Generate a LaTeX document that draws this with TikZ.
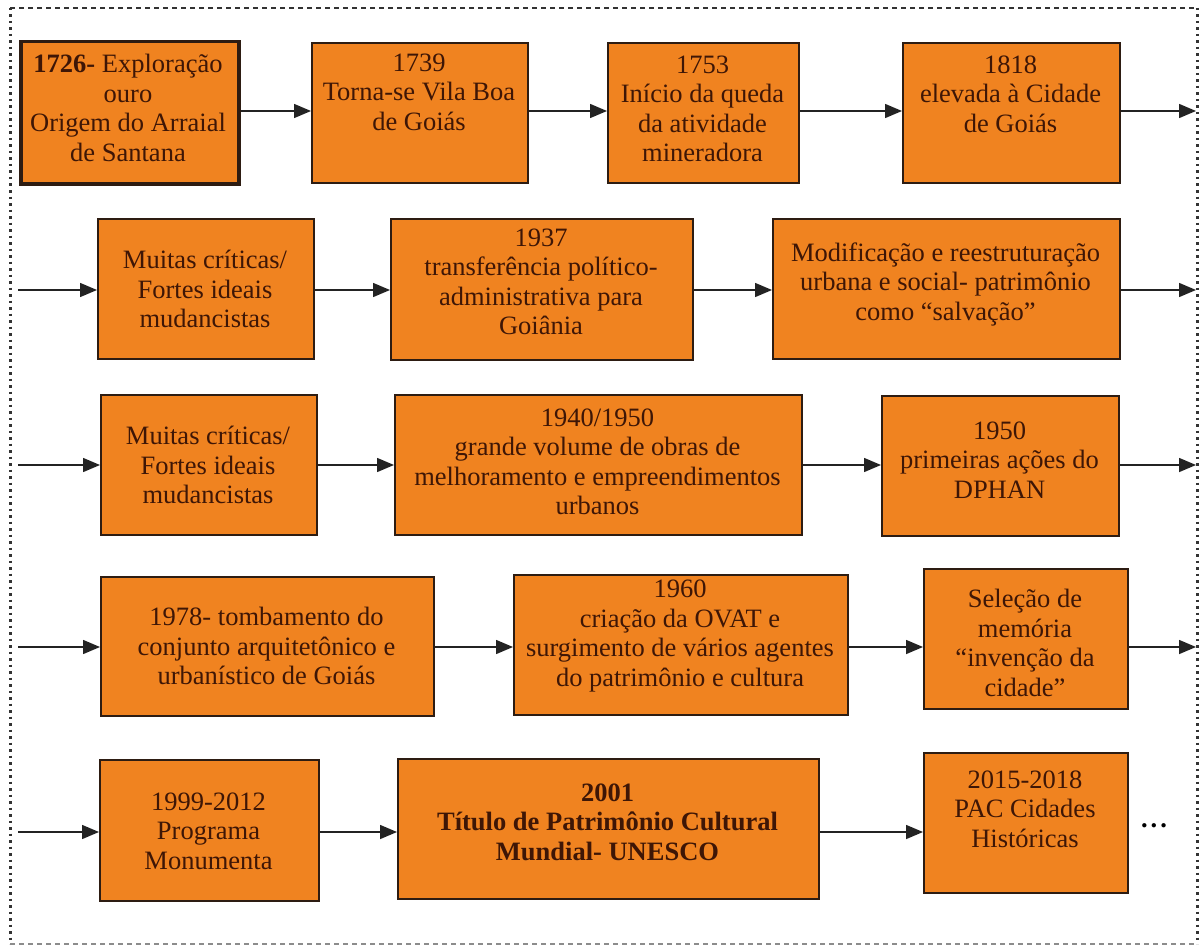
\documentclass[tikz,border=0pt]{standalone}
\usepackage{fontspec}
\setmainfont{Liberation Serif}
\usetikzlibrary{arrows.meta}
\definecolor{boxfill}{RGB}{240,131,32}
\definecolor{boxline}{RGB}{45,28,18}
\definecolor{txtcol}{RGB}{62,22,6}
\definecolor{arrcol}{RGB}{35,35,35}
\tikzset{
  box/.style={draw=boxline, fill=boxfill, line width=2.2pt, inner sep=0pt, anchor=north west},
  txt/.style={text=txtcol, align=center, inner sep=0pt, font=\fontsize{26.5}{29.5}\selectfont},
  arr/.style={draw=arrcol, line width=1.5pt, -{Triangle[length=17pt,width=14pt]}},
  frame/.style={draw=black!80, line width=1.6pt}
}
\begin{document}
\begin{tikzpicture}[x=1pt,y=-1pt]
\useasboundingbox (0,0) rectangle (1202,947);
\fill[white] (0,0) rectangle (1202,947);
% frame
\draw[frame, dash pattern=on 5pt off 4pt] (10,8) -- (1197,8);
\draw[frame, line width=3pt, dash pattern=on 2.5pt off 4pt] (10,8) -- (10,944);
\draw[frame, line width=3pt, dash pattern=on 2.5pt off 4pt] (1197,8) -- (1197,944);
\draw[frame, draw=black!45, dash pattern=on 5pt off 4pt] (10,944) -- (1197,944);
% row coordinates
\coordinate (r1) at (0,111);
\coordinate (r2) at (0,290);
\coordinate (r3) at (0,465);
\coordinate (r4) at (0,647);
\coordinate (r5) at (0,832);
\coordinate (R1) at (1196,111);
\coordinate (L2) at (18,290);
\coordinate (R2) at (1196,290);
\coordinate (L3) at (18,465);
\coordinate (R3) at (1196,465);
\coordinate (L4) at (18,647);
\coordinate (R4) at (1196,647);
\coordinate (L5) at (18,832);
% boxes
\node[box, line width=3.5pt, minimum width=218pt, minimum height=142pt] (b1) at (19,40) {};
\node[box, minimum width=216pt, minimum height=140pt] (b2) at (311,42) {};
\node[box, minimum width=191pt, minimum height=140pt] (b3) at (607,42) {};
\node[box, minimum width=217pt, minimum height=140pt] (b4) at (902,42) {};
\node[box, minimum width=216pt, minimum height=140pt] (b5) at (97,218) {};
\node[box, minimum width=302pt, minimum height=141pt] (b6) at (390,218) {};
\node[box, minimum width=347pt, minimum height=140pt] (b7) at (772,218) {};
\node[box, minimum width=216pt, minimum height=140pt] (b8) at (100,394) {};
\node[box, minimum width=407pt, minimum height=140pt] (b9) at (394,394) {};
\node[box, minimum width=237pt, minimum height=140pt] (b10) at (881,395) {};
\node[box, minimum width=333pt, minimum height=139pt] (b11) at (100,576) {};
\node[box, minimum width=334pt, minimum height=140pt] (b12) at (513,574) {};
\node[box, minimum width=204pt, minimum height=140pt] (b13) at (923,568) {};
\node[box, minimum width=219pt, minimum height=141pt] (b14) at (99,759) {};
\node[box, minimum width=421pt, minimum height=140pt] (b15) at (397,758) {};
\node[box, minimum width=204pt, minimum height=140pt] (b16) at (923,752) {};
% texts
\node[txt] (t1) at (128,108) {\textbf{1726-} Exploração\\ouro\\Origem do Arraial\\de Santana};
\node[txt] (t2) at (419,92) {1739\\Torna-se Vila Boa\\de Goiás};
\node[txt] (t3) at (702.5,109) {1753\\Início da queda\\da atividade\\mineradora};
\node[txt] (t4) at (1010.5,94) {1818\\elevada à Cidade\\de Goiás};
\node[txt] (t5) at (205,289) {Muitas críticas/\\Fortes ideais\\mudancistas};
\node[txt] (t6) at (541,282) {1937\\transferência político-\\administrativa para\\Goiânia};
\node[txt] (t7) at (945.5,284) {Modificação e reestruturação\\urbana e social- patrimônio\\como “salvação”};
\node[txt] (t8) at (208,465) {Muitas críticas/\\Fortes ideais\\mudancistas};
\node[txt] (t9) at (597.5,462) {1940/1950\\grande volume de obras de\\melhoramento e empreendimentos\\urbanos};
\node[txt] (t10) at (999.5,460) {1950\\primeiras ações do\\DPHAN};
\node[txt] (t11) at (266.5,646) {1978- tombamento do\\conjunto arquitetônico e\\urbanístico de Goiás};
\node[txt] (t12) at (680,636) {1960\\criação da OVAT e\\surgimento de vários agentes\\do patrimônio e cultura};
\node[txt] (t13) at (1025,643) {Seleção de\\memória\\“invenção da\\cidade”};
\node[txt] (t14) at (208.5,831) {1999-2012\\Programa\\Monumenta};
\node[txt, font=\fontsize{26.5}{29.5}\selectfont\bfseries] (t15) at (607.5,822) {2001\\Título de Patrimônio Cultural\\Mundial- UNESCO};
\node[txt] (t16) at (1025,809) {2015-2018\\PAC Cidades\\Históricas};
\node[txt, text=black, font=\fontsize{26.5}{29.5}\selectfont\bfseries] (dots) at (1154,826) {.\hspace{3pt}.\hspace{3pt}.};
% arrows
\draw[arr] (b1.east |- r1) -- (b2.west |- r1);
\draw[arr] (b2.east |- r1) -- (b3.west |- r1);
\draw[arr] (b3.east |- r1) -- (b4.west |- r1);
\draw[arr] (b4.east |- r1) -- (R1);
\draw[arr] (L2) -- (b5.west |- r2);
\draw[arr] (b5.east |- r2) -- (b6.west |- r2);
\draw[arr] (b6.east |- r2) -- (b7.west |- r2);
\draw[arr] (b7.east |- r2) -- (R2);
\draw[arr] (L3) -- (b8.west |- r3);
\draw[arr] (b8.east |- r3) -- (b9.west |- r3);
\draw[arr] (b9.east |- r3) -- (b10.west |- r3);
\draw[arr] (b10.east |- r3) -- (R3);
\draw[arr] (L4) -- (b11.west |- r4);
\draw[arr] (b11.east |- r4) -- (b12.west |- r4);
\draw[arr] (b12.east |- r4) -- (b13.west |- r4);
\draw[arr] (b13.east |- r4) -- (R4);
\draw[arr] (L5) -- (b14.west |- r5);
\draw[arr] (b14.east |- r5) -- (b15.west |- r5);
\draw[arr] (b15.east |- r5) -- (b16.west |- r5);
\end{tikzpicture}
\end{document}
